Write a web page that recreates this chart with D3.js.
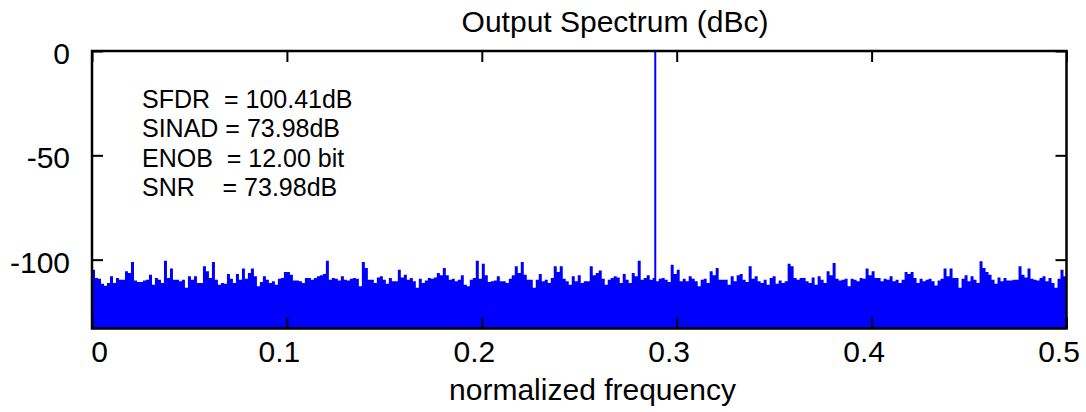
<!DOCTYPE html>
<html>
<head>
<meta charset="utf-8">
<script src="https://cdn.jsdelivr.net/npm/d3@7"></script>
<style>
  body { margin: 0; background: #fff; }
  text { font-family: "Liberation Sans", Arial, sans-serif; fill: #000; }
  .stats text { white-space: pre; }
</style>
</head>
<body>
<svg id="chart" width="1086" height="412"></svg>
<script>
var title = 'Output Spectrum (dBc)';
var xLabel = 'normalized frequency';
var xTicks = [0, 0.1, 0.2, 0.3, 0.4, 0.5];
var yTicks = [0, -50, -100];
var xDomain = [0, 0.5];
var yDomain = [-133, 0];
var toneFreq = [0.289];
var toneDb = [0];
var statLabels = ['SFDR  = 100.41dB', 'SINAD = 73.98dB', 'ENOB  = 12.00 bit', 'SNR    = 73.98dB'];

// top of the noise floor, one value per frequency bin (dBc)
var noiseDb = [
  -104.8, -108.8, -109.1, -111.6, -112.5, -111.2, -108.0, -111.2, -108.8, -109.6,
  -109.6, -105.6, -106.4, -101.1, -110.0, -110.7, -110.7, -110.0, -109.6, -107.2,
  -112.0, -108.8, -109.6, -111.2, -100.5, -108.8, -104.3, -109.6, -109.6, -110.4,
  -109.6, -113.5, -108.0, -109.6, -108.0, -111.2, -111.2, -103.2, -105.6, -108.8,
  -101.1, -109.6, -112.0, -111.2, -111.6, -106.9, -109.1, -111.2, -106.9, -109.6,
  -104.3, -109.1, -106.4, -104.3, -108.0, -112.8, -110.7, -108.0, -109.6, -111.2,
  -110.4, -112.0, -109.1, -108.8, -105.9, -105.9, -107.2, -110.0, -110.0, -110.4,
  -111.2, -108.8, -108.8, -109.6, -108.8, -108.0, -107.5, -106.9, -100.5, -109.6,
  -108.8, -109.1,
  -110.0, -108.0, -109.6, -110.0, -109.1, -108.8, -109.1, -112.8, -101.1, -104.0,
  -109.6, -109.6, -111.2, -108.5, -108.0, -109.6, -111.6, -108.8, -110.4, -110.4,
  -104.8, -108.5, -107.2, -109.6, -108.8, -110.4, -113.5, -109.1, -111.2, -110.0,
  -108.8, -109.1, -108.5, -106.4, -107.5, -104.0, -107.5, -109.6, -109.1, -110.4,
  -109.6, -107.5, -112.0, -112.8, -109.6, -108.8, -100.5, -109.1, -102.0, -107.5,
  -110.7, -110.4, -110.0, -108.0, -110.4, -110.4, -111.2, -109.1, -107.5, -103.2,
  -106.4, -101.1, -107.2, -109.6, -109.6, -113.5, -109.6, -106.9, -110.4, -109.6,
  -111.2, -108.8, -103.2, -105.9, -103.2, -109.1, -110.4, -112.0, -108.0, -110.4,
  -107.5,
  -111.2, -110.4, -110.4, -103.2, -107.5, -106.4, -105.2, -109.1, -112.0, -109.6,
  -108.8, -108.0, -108.5, -111.2, -106.9, -109.6, -111.2, -106.4, -108.0, -100.5,
  -109.6, -108.8, -107.5, -109.6, -108.8, -110.4, -109.1, -108.8, -109.6, -110.7,
  -102.5, -106.9, -104.8, -110.4, -109.1, -110.4, -108.0, -109.1, -110.4, -112.8,
  -109.6, -109.1, -111.2, -105.6, -107.5, -104.0, -109.6, -109.6, -109.6, -112.0,
  -108.0, -110.4, -107.5, -106.9, -109.6, -110.7, -103.2, -109.1, -108.0, -110.4,
  -111.2, -109.6, -112.0, -108.8, -108.0, -111.6, -110.0, -111.2, -110.4, -102.0,
  -103.2, -108.8, -109.6, -108.8, -108.8, -110.4, -111.2, -108.5, -112.0, -108.0,
  -109.6, -111.2,
  -105.6, -107.5, -101.6, -109.1, -110.0, -109.6, -109.1, -112.8, -109.1, -109.6,
  -110.4, -108.8, -109.1, -104.3, -107.5, -105.6, -108.8, -108.8, -110.4, -109.1,
  -109.6, -108.0, -110.4, -109.6, -111.2, -109.6, -105.9, -106.9, -105.9, -108.8,
  -111.2, -109.1, -110.4, -109.6, -109.1, -110.4, -112.4, -110.0, -109.1, -104.3,
  -108.0, -104.3, -108.8, -108.8, -113.5, -109.1, -107.5, -110.4, -108.0, -109.6,
  -111.2, -100.8, -104.0, -105.9, -107.2, -109.6, -111.6, -108.5, -110.4, -108.8,
  -110.0, -110.0, -109.6, -109.6, -103.2, -107.2, -108.5, -104.3, -109.1, -109.6,
  -110.0, -108.8, -108.0, -110.4, -108.8, -111.2, -113.5, -109.1, -104.8, -108.0
];

var blue = '#0000ff';
var svg = d3.select('#chart');

var x = d3.scaleLinear().domain(xDomain).range([92, 1066.5]);
var y = d3.scaleLinear().domain(yDomain).range([328.5, 51]);

function fmt(d) { return String(d); }

// noise floor as a stepped filled area
var binWidth = (xDomain[1] - xDomain[0]) / noiseDb.length;
var noisePts = noiseDb.map(function(d, i) { return [xDomain[0] + i * binWidth, d]; });
noisePts.push([xDomain[1], noiseDb[noiseDb.length - 1]]);

var area = d3.area()
  .curve(d3.curveStepAfter)
  .x(function(d) { return x(d[0]); })
  .y0(y(yDomain[0]))
  .y1(function(d) { return y(d[1]); });

svg.append('path')
  .datum(noisePts)
  .attr('d', area)
  .attr('fill', blue);

// the tone
svg.selectAll('line.tone')
  .data(toneFreq)
  .enter()
    .append('line')
      .attr('class', 'tone')
      .attr('x1', function(d) { return x(d); })
      .attr('x2', function(d) { return x(d); })
      .attr('y1', y(yDomain[0]))
      .attr('y2', function(d, i) { return y(toneDb[i]); })
      .attr('stroke', blue)
      .attr('stroke-width', 2);

// axes, ticks inward on all four sides
var tickLen = 11;

var gx = svg.append('g')
  .attr('transform', 'translate(0,' + y(yDomain[0]) + ')')
  .call(d3.axisBottom(x).tickValues(xTicks).tickSize(-tickLen).tickPadding(12).tickFormat(fmt));
gx.selectAll('text')
  .attr('dx', function(d) { return d === 0 ? 7 : -8; });

var gxTop = svg.append('g')
  .attr('transform', 'translate(0,' + y(yDomain[1]) + ')')
  .call(d3.axisTop(x).tickValues(xTicks).tickSize(-tickLen).tickFormat(''));

var gy = svg.append('g')
  .attr('transform', 'translate(' + x(xDomain[0]) + ',0)')
  .call(d3.axisLeft(y).tickValues(yTicks).tickSize(-tickLen).tickPadding(22).tickFormat(fmt));
gy.selectAll('text').attr('dy', '0.42em');

var gyRight = svg.append('g')
  .attr('transform', 'translate(' + x(xDomain[1]) + ',0)')
  .call(d3.axisRight(y).tickValues(yTicks).tickSize(-tickLen).tickFormat(''));

[gx, gxTop, gy, gyRight].forEach(function(g) {
  g.select('.domain').remove();
  g.selectAll('line').attr('stroke', '#000').attr('stroke-width', 2);
  g.selectAll('text')
    .style('font-family', '"Liberation Sans", Arial, sans-serif')
    .style('font-size', '30px')
    .attr('fill', '#000');
});

// frame
svg.append('rect')
  .attr('x', x(xDomain[0]))
  .attr('y', y(yDomain[1]))
  .attr('width', x(xDomain[1]) - x(xDomain[0]))
  .attr('height', y(yDomain[0]) - y(yDomain[1]))
  .attr('fill', 'none')
  .attr('stroke', '#000')
  .attr('stroke-width', 2.5);

// labels
svg.append('text')
  .attr('x', 615)
  .attr('y', 32)
  .attr('text-anchor', 'middle')
  .style('font-size', '30px')
  .text(title);

svg.append('text')
  .attr('x', 592.5)
  .attr('y', 400)
  .attr('text-anchor', 'middle')
  .style('font-size', '30px')
  .text(xLabel);

svg.append('g')
  .attr('class', 'stats')
  .selectAll('text')
  .data(statLabels)
  .enter()
    .append('text')
      .attr('x', 142)
      .attr('y', function(d, i) { return 108 + i * 29.3; })
      .style('font-size', '25px')
      .text(function(d) { return d; });
</script>
</body>
</html>
